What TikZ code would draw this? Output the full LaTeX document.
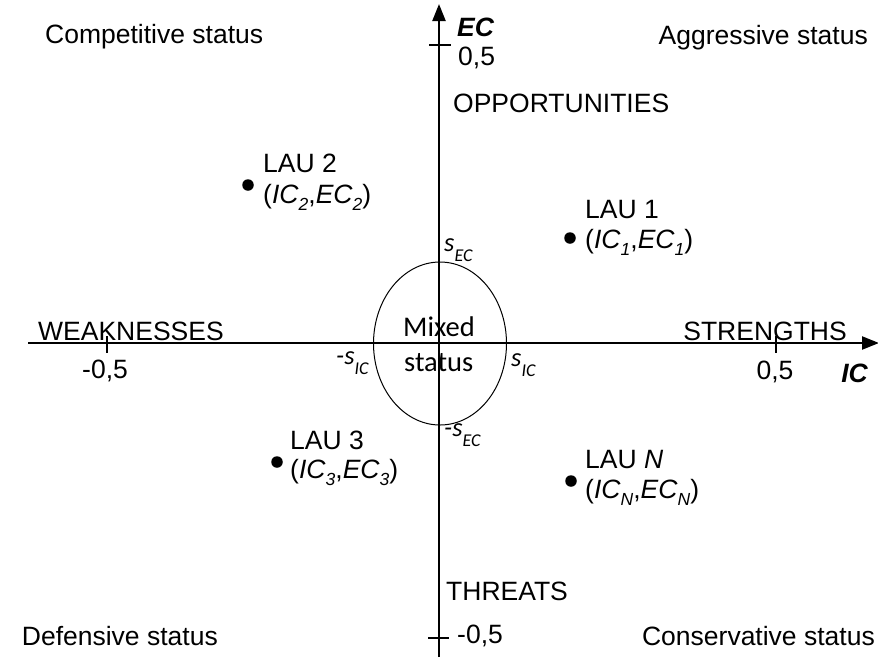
\documentclass[tikz,border=0pt]{standalone}
\usepackage{fontspec}
\setmainfont{Liberation Sans}
\newfontfamily\calib{Carlito}
\usetikzlibrary{arrows.meta,shapes.geometric}
\newcommand\lsub[1]{\raisebox{-7pt}{\fontsize{17.5}{17.5}\selectfont\itshape #1}}
\newcommand\csub[1]{\raisebox{-10pt}{\fontsize{18}{18}\selectfont\itshape #1}}
\tikzset{
  lbl/.style={font=\fontsize{26.5}{30}\selectfont, inner sep=0pt, anchor=west},
  clbl/.style={font=\calib\fontsize{28.5}{32}\selectfont, inner sep=0pt, anchor=west},
  slbl/.style={font=\calib\fontsize{26.5}{30}\selectfont\itshape, inner sep=0pt, anchor=west},
  axis/.style={line width=2.3pt, -{Triangle[length=17pt,width=13pt]}},
  tickl/.style={line width=1.3pt},
  dotp/.style={circle, fill=black, inner sep=0pt, minimum size=11.5pt},
}
\begin{document}
\begin{tikzpicture}[x=1pt,y=-1pt]
\useasboundingbox (0,0) rectangle (878,657);
% axes
\coordinate (vb) at (439,657);
\coordinate (vt) at (439,4);
\coordinate (hl) at (28,343);
\coordinate (hr) at (879,343);
\draw[axis] (vb) -- (vt);
\draw[axis] (hl) -- (hr);
% ticks
\coordinate (t1a) at (429,45); \coordinate (t1b) at (451,45);
\coordinate (t2a) at (428,638); \coordinate (t2b) at (449,638);
\coordinate (t3a) at (107,336); \coordinate (t3b) at (107,353);
\coordinate (t4a) at (776,336); \coordinate (t4b) at (776,353);
\draw[tickl] (t1a) -- (t1b);
\draw[tickl] (t2a) -- (t2b);
\draw[tickl] (t3a) -- (t3b);
\draw[tickl] (t4a) -- (t4b);
% ellipse
\node[draw, line width=1pt, ellipse, inner sep=0pt, minimum width=133pt, minimum height=163pt] (ell) at (440,343.5) {};
% axis labels
\node[lbl, font=\fontsize{26.5}{30}\selectfont\bfseries\itshape] (ec) at (457,27) {EC};
\node[lbl, font=\fontsize{26.5}{30}\selectfont\bfseries\itshape, anchor=east] (ic) at (868,373) {IC};
\node[lbl] (p5t) at (458,58) {0,5};
\node[lbl] (m5b) at (457,636) {-0,5};
\node[lbl, anchor=center] (p5r) at (775,372) {0,5};
\node[lbl] (m5l) at (82,371) {-0,5};
% directional labels
\node[lbl] (opp) at (453,103) {OPPORTUNITIES};
\node[lbl] (thr) at (446,591) {THREATS};
\node[lbl] (weak) at (38,331) {WEAKNESSES};
\node[lbl, anchor=east] (str) at (847,331) {STRENGTHS};
% corner labels
\node[lbl] (comp) at (45,37) {Competitive status};
\node[lbl, anchor=east] (aggr) at (868,38) {Aggressive status};
\node[lbl, anchor=east] (def) at (218,636) {Defensive status};
\node[lbl, anchor=east] (cons) at (875,636) {Conservative status};
% mixed
\node[clbl] (mixed) at (403,327) {Mixed};
\node[clbl] (status) at (404,363) {status};
% s labels
\node[slbl] (sec) at (444,250) {s\csub{EC}};
\node[slbl] (msic) at (336,363) {-s\csub{IC}};
\node[slbl] (sic) at (511,365) {s\csub{IC}};
\node[slbl] (msec) at (444,435) {-s\csub{EC}};
% LAU points
\node[dotp] (d2) at (248,185) {};
\node[lbl] (l2a) at (263,163) {LAU 2};
\node[lbl] (l2b) at (263,197) {(\textit{IC}\lsub{2},\textit{EC}\lsub{2})};
\node[dotp] (d1) at (570,238) {};
\node[lbl] (l1a) at (585,210) {LAU 1};
\node[lbl] (l1b) at (585,242) {(\textit{IC}\lsub{1},\textit{EC}\lsub{1})};
\node[dotp] (d3) at (277,462) {};
\node[lbl] (l3a) at (290,440) {LAU 3};
\node[lbl] (l3b) at (290,472) {(\textit{IC}\lsub{3},\textit{EC}\lsub{3})};
\node[dotp] (dn) at (571,481) {};
\node[lbl] (lna) at (585,460) {LAU \textit{N}};
\node[lbl] (lnb) at (585,492) {(\textit{IC}\lsub{N},\textit{EC}\lsub{N})};
\end{tikzpicture}
\end{document}
